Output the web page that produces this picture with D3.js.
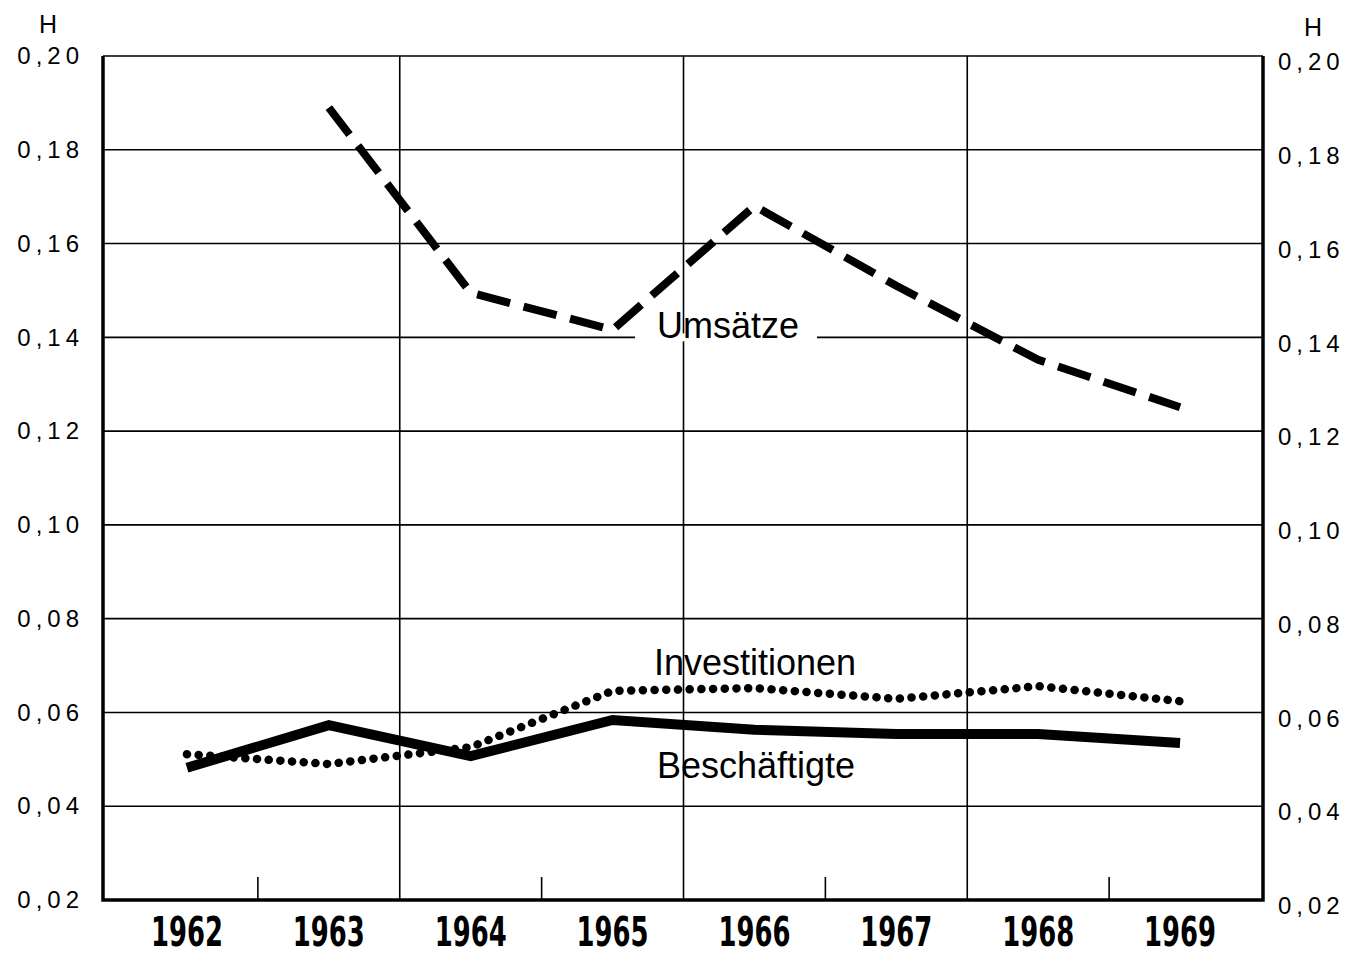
<!DOCTYPE html>
<html lang="de">
<head>
  <meta charset="utf-8">
  <title>Konzentrationsmaße H 1962–1969</title>
  <script src="https://d3js.org/d3.v7.js"></script>
  <style>
    body { margin: 0; background: #fff; }
    text { fill: #000; }
  </style>
</head>
<body>
  <div id="my_dataviz"></div>

  <script>
    // data
    var years = ["1962", "1963", "1964", "1965", "1966", "1967", "1968", "1969"];
    var umsaetze      = [null, 0.189, 0.1495, 0.1416, 0.168, 0.151, 0.1352, 0.1251];
    var investitionen = [0.0511, 0.0490, 0.0526, 0.0646, 0.0652, 0.0629, 0.0656, 0.0624];
    var beschaeftigte = [0.0482, 0.0573, 0.0507, 0.0584, 0.0563, 0.0554, 0.0554, 0.0535];
    var yTicks = [0.02, 0.04, 0.06, 0.08, 0.10, 0.12, 0.14, 0.16, 0.18, 0.20];

    var W = 1370, H = 956;
    var frameL = 103, frameR = 1263, plotTop = 56, plotBottom = 900;

    var svg = d3.select("#my_dataviz")
      .append("svg")
      .attr("width", W)
      .attr("height", H);

    var x = d3.scaleBand()
      .domain(years)
      .range([116, 1251]);
    var xc = function(d) { return x(d) + x.bandwidth() / 2; };

    var y = d3.scaleLinear()
      .domain([0.02, 0.20])
      .range([plotBottom, plotTop]);

    var fmt = function(d) { return d3.format(".2f")(d).replace(".", ","); };

    // horizontal grid
    svg.append("g")
      .selectAll("line")
      .data(yTicks.slice(1))
      .join("line")
      .attr("x1", frameL).attr("x2", frameR)
      .attr("y1", function(d) { return y(d); })
      .attr("y2", function(d) { return y(d); })
      .attr("stroke", "#000")
      .attr("stroke-width", 1.6);

    // vertical lines between year pairs, short ticks elsewhere
    var bounds = years.slice(1);
    svg.append("g")
      .selectAll("line")
      .data(bounds)
      .join("line")
      .attr("x1", function(d) { return x(d); })
      .attr("x2", function(d) { return x(d); })
      .attr("y1", function(d, i) { return i % 2 === 1 ? plotTop : plotBottom - 23; })
      .attr("y2", plotBottom)
      .attr("stroke", "#000")
      .attr("stroke-width", 1.6);

    // frame
    svg.append("path")
      .attr("d", "M" + frameL + "," + plotTop + "V" + plotBottom + "H" + frameR + "V" + plotTop)
      .attr("fill", "none")
      .attr("stroke", "#000")
      .attr("stroke-width", 3.5);

    // white gap in the 0,14 grid line behind the label
    svg.append("rect")
      .attr("x", 635).attr("y", y(0.14) - 4)
      .attr("width", 182).attr("height", 8)
      .attr("fill", "#fff");

    // series
    function series(vals) {
      return years.map(function(d, i) { return {year: d, v: vals[i]}; });
    }
    var line = d3.line()
      .defined(function(d) { return d.v != null; })
      .x(function(d) { return xc(d.year); })
      .y(function(d) { return y(d.v); });

    svg.append("path")
      .datum(series(umsaetze))
      .attr("d", line)
      .attr("fill", "none")
      .attr("stroke", "#000")
      .attr("stroke-width", 8)
      .attr("stroke-dasharray", "34 14");

    svg.append("path")
      .datum(series(investitionen))
      .attr("d", line)
      .attr("fill", "none")
      .attr("stroke", "#000")
      .attr("stroke-width", 8.5)
      .attr("stroke-linecap", "round")
      .attr("stroke-dasharray", "0.1 11.6");

    svg.append("path")
      .datum(series(beschaeftigte))
      .attr("d", line)
      .attr("fill", "none")
      .attr("stroke", "#000")
      .attr("stroke-width", 10)
      .attr("stroke-linejoin", "miter");

    // series labels
    var lab = svg.append("g")
      .style("font-family", "'Liberation Sans', Arial, sans-serif")
      .style("font-size", "36px")
      .attr("text-anchor", "middle");
    lab.append("text").attr("x", 728).attr("y", y(0.14) + 1).text("Umsätze");
    lab.append("text").attr("x", 755).attr("y", 675).text("Investitionen");
    lab.append("text").attr("x", 756).attr("y", 778).text("Beschäftigte");

    // y axes
    var tickFont = "'Liberation Sans', 'DejaVu Sans', sans-serif";
    var yl = svg.append("g")
      .attr("transform", "translate(84,0)")
      .call(d3.axisLeft(y).tickValues(yTicks).tickFormat(fmt).tickSize(0).tickPadding(0));
    var yr = svg.append("g")
      .attr("transform", "translate(1278,6)")
      .call(d3.axisRight(y).tickValues(yTicks).tickFormat(fmt).tickSize(0).tickPadding(0));
    [yl, yr].forEach(function(g) {
      g.select(".domain").remove();
      g.selectAll("text")
        .style("font-family", tickFont)
        .style("font-size", "24px")
        .style("letter-spacing", "5px")
        .attr("fill", "#000");
    });

    svg.append("text").attr("x", 48).attr("y", 33)
      .attr("text-anchor", "middle")
      .style("font-family", tickFont).style("font-size", "25px").text("H");
    svg.append("text").attr("x", 1313).attr("y", 36)
      .attr("text-anchor", "middle")
      .style("font-family", tickFont).style("font-size", "25px").text("H");

    // x axis: years (condensed bold)
    var xa = svg.append("g")
      .attr("transform", "translate(0," + plotBottom + ")")
      .call(d3.axisBottom(x).tickSize(0).tickPadding(18));
    xa.select(".domain").remove();
    xa.selectAll("text")
      .style("font-family", "'DejaVu Sans', sans-serif")
      .style("font-weight", "bold")
      .style("font-size", "40px")
      .attr("textLength", 72)
      .attr("lengthAdjust", "spacingAndGlyphs")
      .attr("fill", "#000");
  </script>
</body>
</html>
